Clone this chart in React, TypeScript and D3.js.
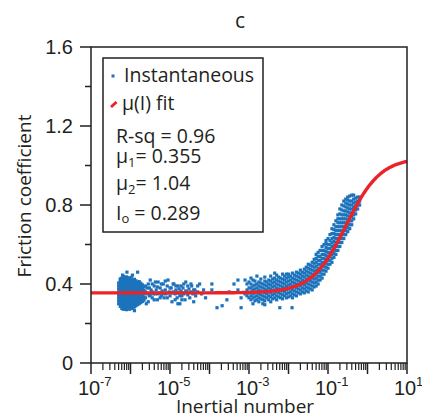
import React from "react";
import * as d3 from "d3";

// ---------- data ----------
// Instantaneous friction measurements grouped in columns:
// [log10(Inertial number), friction coefficients at that inertial number]
const slowCluster: [number, number[]][] = [
  [-6.3, [0.3, 0.315, 0.33, 0.345, 0.36, 0.375, 0.39, 0.405]],
  [-6.26, [0.287, 0.301, 0.316, 0.33, 0.344, 0.358, 0.372, 0.386, 0.4, 0.414, 0.426]],
  [-6.22, [0.276, 0.29, 0.304, 0.318, 0.332, 0.346, 0.36, 0.374, 0.388, 0.402, 0.416, 0.43]],
  [-6.18, [0.272, 0.286, 0.3, 0.314, 0.328, 0.342, 0.356, 0.37, 0.384, 0.398, 0.412, 0.426, 0.438]],
  [-6.14, [0.275, 0.289, 0.303, 0.317, 0.331, 0.345, 0.359, 0.373, 0.387, 0.401, 0.415, 0.429]],
  [-6.1, [0.27, 0.284, 0.298, 0.312, 0.326, 0.34, 0.354, 0.368, 0.382, 0.396, 0.41, 0.424, 0.436]],
  [-6.06, [0.278, 0.292, 0.306, 0.32, 0.334, 0.348, 0.362, 0.376, 0.39, 0.404, 0.418, 0.432]],
  [-6.02, [0.272, 0.286, 0.3, 0.314, 0.328, 0.342, 0.356, 0.37, 0.384, 0.398, 0.412, 0.426]],
  [-5.98, [0.28, 0.294, 0.308, 0.322, 0.336, 0.35, 0.364, 0.378, 0.392, 0.406, 0.42, 0.434]],
  [-5.94, [0.276, 0.29, 0.304, 0.318, 0.332, 0.346, 0.36, 0.374, 0.388, 0.402, 0.416]],
  [-5.9, [0.284, 0.298, 0.312, 0.326, 0.34, 0.354, 0.368, 0.382, 0.396, 0.41, 0.424]],
  [-5.86, [0.29, 0.304, 0.318, 0.332, 0.346, 0.36, 0.374, 0.388, 0.402, 0.416]],
  [-5.82, [0.296, 0.31, 0.324, 0.338, 0.352, 0.366, 0.38, 0.394, 0.408]],
  [-5.78, [0.3, 0.314, 0.328, 0.342, 0.356, 0.37, 0.384, 0.398, 0.412]],
  [-5.74, [0.306, 0.32, 0.334, 0.348, 0.362, 0.376, 0.39, 0.404]],
  [-5.7, [0.312, 0.326, 0.34, 0.354, 0.368, 0.382, 0.396]],
  [-5.66, [0.318, 0.335, 0.352, 0.369, 0.386]],
  [-5.62, [0.33, 0.36, 0.39]],
  [-6.09, [0.46]], [-5.82, [0.46]], [-5.95, [0.445]], [-6.2, [0.445]], [-5.6, [0.3]], [-5.9, [0.265]],
];

const sparseCluster: [number, number[]][] = [
  [-5.58, [0.35, 0.38]], [-5.55, [0.31, 0.4]], [-5.52, [0.34, 0.38]], [-5.5, [0.345, 0.42]],
  [-5.48, [0.37]], [-5.45, [0.33, 0.36, 0.4]], [-5.42, [0.35]], [-5.4, [0.39, 0.32]],
  [-5.37, [0.35, 0.41]], [-5.35, [0.37]], [-5.32, [0.32, 0.385]], [-5.3, [0.41, 0.35]],
  [-5.27, [0.355]], [-5.25, [0.38, 0.33]], [-5.22, [0.34, 0.4]], [-5.2, [0.365]],
  [-5.17, [0.4, 0.35]], [-5.15, [0.33]], [-5.12, [0.37, 0.415]], [-5.1, [0.35]],
  [-5.07, [0.39, 0.33]], [-5.05, [0.42]], [-5.02, [0.36]], [-5.0, [0.34, 0.38]],
  [-4.97, [0.38]], [-4.95, [0.31, 0.355]], [-4.92, [0.36, 0.4]], [-4.9, [0.4]],
  [-4.87, [0.35, 0.32]], [-4.85, [0.37, 0.39]], [-4.82, [0.33, 0.355]], [-4.8, [0.39, 0.3]],
  [-4.77, [0.355, 0.375]], [-4.75, [0.3, 0.34]], [-4.72, [0.365, 0.39]], [-4.7, [0.34, 0.32]],
  [-4.67, [0.38, 0.355]], [-4.65, [0.35, 0.4]], [-4.62, [0.32]], [-4.6, [0.41, 0.365]],
  [-4.57, [0.36]], [-4.55, [0.345, 0.39]], [-4.52, [0.375]], [-4.5, [0.33]],
  [-4.47, [0.36, 0.4]], [-4.45, [0.39]], [-4.42, [0.35]], [-4.4, [0.31, 0.37]],
  [-4.37, [0.37]], [-4.35, [0.34]], [-4.3, [0.36, 0.39]], [-4.25, [0.4]],
  [-4.2, [0.35]], [-4.15, [0.37]], [-4.1, [0.33]],
  [-3.94, [0.4, 0.37]], [-3.81, [0.28]], [-3.68, [0.29]], [-3.56, [0.32]], [-3.5, [0.36]],
  [-3.38, [0.4]], [-3.28, [0.42, 0.37]], [-3.2, [0.33, 0.28]], [-3.1, [0.35, 0.42]],
];

const transitionCluster: [number, number[]][] = [
  [-3.05, [0.34, 0.37, 0.4]],
  [-3.0, [0.33, 0.355, 0.38, 0.41]],
  [-2.95, [0.32, 0.34, 0.36, 0.38, 0.4, 0.43]],
  [-2.9, [0.33, 0.35, 0.37, 0.39, 0.42]],
  [-2.85, [0.315, 0.335, 0.355, 0.375, 0.395, 0.415]],
  [-2.8, [0.32, 0.34, 0.36, 0.38, 0.4, 0.44]],
  [-2.75, [0.31, 0.33, 0.35, 0.37, 0.39, 0.41]],
  [-2.7, [0.325, 0.345, 0.365, 0.385, 0.405, 0.425]],
  [-2.65, [0.3, 0.32, 0.34, 0.36, 0.38, 0.4]],
  [-2.6, [0.315, 0.335, 0.355, 0.375, 0.395, 0.415, 0.435]],
  [-2.55, [0.33, 0.35, 0.37, 0.39, 0.41]],
  [-2.5, [0.32, 0.34, 0.36, 0.38, 0.4, 0.42]],
  [-2.45, [0.31, 0.335, 0.355, 0.375, 0.395, 0.415, 0.44]],
  [-2.4, [0.325, 0.345, 0.365, 0.385, 0.405, 0.425]],
  [-2.35, [0.33, 0.35, 0.37, 0.39, 0.41, 0.43]],
  [-2.3, [0.32, 0.34, 0.36, 0.38, 0.4, 0.42, 0.445]],
  [-2.25, [0.335, 0.355, 0.375, 0.395, 0.415, 0.435]],
  [-2.2, [0.33, 0.35, 0.37, 0.39, 0.41, 0.43]],
  [-2.15, [0.325, 0.345, 0.365, 0.385, 0.405, 0.425, 0.45]],
  [-2.1, [0.34, 0.36, 0.38, 0.4, 0.42, 0.44]],
  [-2.05, [0.33, 0.35, 0.37, 0.39, 0.41, 0.43, 0.45]],
  [-2.22, [0.28]], [-1.91, [0.28]], [-2.6, [0.295]], [-2.9, [0.3]], [-2.35, [0.455]],
];

const risingCluster: [number, number[]][] = [
  [-2.0, [0.335, 0.355, 0.375, 0.395, 0.415, 0.435, 0.45]],
  [-1.95, [0.34, 0.36, 0.38, 0.4, 0.42, 0.44]],
  [-1.9, [0.33, 0.35, 0.37, 0.39, 0.41, 0.43, 0.455]],
  [-1.85, [0.345, 0.365, 0.385, 0.405, 0.425, 0.445]],
  [-1.8, [0.34, 0.36, 0.38, 0.4, 0.42, 0.44, 0.46]],
  [-1.75, [0.355, 0.375, 0.395, 0.415, 0.435, 0.455]],
  [-1.7, [0.35, 0.37, 0.39, 0.41, 0.43, 0.45, 0.47]],
  [-1.65, [0.36, 0.38, 0.4, 0.42, 0.44, 0.46]],
  [-1.6, [0.355, 0.375, 0.395, 0.415, 0.435, 0.455, 0.475]],
  [-1.55, [0.365, 0.385, 0.405, 0.425, 0.445, 0.465, 0.485]],
  [-1.5, [0.36, 0.38, 0.4, 0.42, 0.44, 0.46, 0.48, 0.5]],
  [-1.45, [0.375, 0.395, 0.415, 0.435, 0.455, 0.475, 0.495]],
  [-1.4, [0.37, 0.39, 0.41, 0.43, 0.45, 0.47, 0.49, 0.51]],
  [-1.35, [0.385, 0.405, 0.425, 0.445, 0.465, 0.485, 0.505, 0.525]],
  [-1.3, [0.39, 0.41, 0.43, 0.45, 0.47, 0.49, 0.51, 0.53, 0.55]],
  [-1.25, [0.4, 0.42, 0.44, 0.46, 0.48, 0.5, 0.52, 0.54, 0.56]],
  [-1.2, [0.42, 0.44, 0.46, 0.48, 0.5, 0.52, 0.54, 0.57]],
  [-1.15, [0.43, 0.45, 0.47, 0.49, 0.51, 0.53, 0.55, 0.57, 0.59]],
  [-1.1, [0.45, 0.47, 0.49, 0.51, 0.53, 0.55, 0.57, 0.6]],
  [-1.05, [0.465, 0.485, 0.505, 0.525, 0.545, 0.565, 0.585, 0.605, 0.62]],
  [-1.0, [0.48, 0.5, 0.52, 0.54, 0.56, 0.58, 0.6, 0.63]],
  [-0.95, [0.5, 0.52, 0.54, 0.56, 0.58, 0.6, 0.62, 0.65]],
  [-0.9, [0.51, 0.53, 0.55, 0.57, 0.59, 0.61, 0.63, 0.655, 0.68]],
  [-0.85, [0.535, 0.555, 0.575, 0.595, 0.615, 0.635, 0.655, 0.675, 0.7]],
  [-0.8, [0.55, 0.57, 0.59, 0.61, 0.63, 0.65, 0.67, 0.69, 0.72]],
  [-0.75, [0.57, 0.59, 0.61, 0.63, 0.65, 0.67, 0.69, 0.71, 0.73, 0.75]],
  [-0.7, [0.59, 0.61, 0.63, 0.65, 0.67, 0.69, 0.71, 0.73, 0.755, 0.78]],
  [-0.65, [0.61, 0.63, 0.65, 0.67, 0.69, 0.71, 0.73, 0.75, 0.775, 0.8]],
  [-0.6, [0.63, 0.65, 0.67, 0.69, 0.71, 0.73, 0.75, 0.77, 0.795, 0.82]],
  [-0.55, [0.65, 0.67, 0.69, 0.71, 0.73, 0.75, 0.77, 0.79, 0.81, 0.83]],
  [-0.5, [0.665, 0.685, 0.705, 0.725, 0.745, 0.765, 0.785, 0.805, 0.825, 0.84]],
  [-0.45, [0.68, 0.7, 0.72, 0.74, 0.76, 0.78, 0.8, 0.82, 0.845]],
  [-0.4, [0.7, 0.72, 0.74, 0.76, 0.78, 0.8, 0.82, 0.85]],
  [-0.35, [0.73, 0.75, 0.77, 0.79, 0.81, 0.83, 0.85]],
  [-0.3, [0.755, 0.775, 0.795, 0.815, 0.835]],
  [-0.25, [0.78, 0.8, 0.82, 0.84]],
  [-0.2, [0.8, 0.82, 0.84]],
];

// Fit parameters (mu(I) rheology)
const mu1 = 0.355;
const mu2 = 1.04;
const I0 = 0.289;
const rSq = 0.96;

const yTicks = [0, 0.4, 0.8, 1.2, 1.6];
const yMinorTicks = [0.2, 0.6, 1.0, 1.4];
const xLabelExps = [-7, -5, -3, -1, 1];
const xDecades = [-7, -6, -5, -4, -3, -2, -1, 0, 1];

// ---------- layout ----------
const W = 422;
const H = 419;
const L = 91, R = 407, T = 47, B = 363;

const BLUE = "#1c73bb";
const RED = "#ec2229";
const INK = "#231f20";
const SANS = "'Open Sans', 'Noto Sans', sans-serif";
const ARIAL = "'Liberation Sans', Arial, sans-serif";

export default function App() {
  const x = d3.scaleLog().domain([1e-7, 10]).range([L, R]);
  const y = d3.scaleLinear().domain([0, 1.6]).range([B, T]);

  const allPts: [number, number][] = [];
  [slowCluster, sparseCluster, transitionCluster, risingCluster].forEach((cl) =>
    cl.forEach(([e, mus]) => mus.forEach((m) => allPts.push([Math.pow(10, e), m])))
  );

  const fitI = d3.range(-7, 1.0001, 0.02).map((e) => Math.pow(10, e));
  const fit = (I: number) => mu1 + (mu2 - mu1) / (I0 / I + 1);
  const line = d3
    .line<number>()
    .x((I) => x(I))
    .y((I) => y(fit(I)));

  const minorX: number[] = [];
  xDecades.slice(0, -1).forEach((e) => {
    for (let k = 2; k <= 9; k++) minorX.push(k * Math.pow(10, e));
  });

  const sq = 3.2;
  const fs = 19.5;

  return (
    <svg width={W} height={H} style={{ position: "absolute", left: 0, top: 0 }}>
      <rect x={0} y={0} width={W} height={H} fill="#fff" />
      {/* title */}
      <text x={240} y={28} fontFamily={SANS} fontSize={21} textAnchor="middle" fill={INK}>
        c
      </text>

      {/* scatter */}
      <g fill={BLUE}>
        {allPts.map((d, i) => (
          <rect key={i} x={x(d[0]) - sq / 2} y={y(d[1]) - sq / 2} width={sq} height={sq} />
        ))}
      </g>

      {/* fit line */}
      <path d={line(fitI) || ""} fill="none" stroke={RED} strokeWidth={3.4} />

      {/* frame */}
      <rect x={L} y={T} width={R - L} height={B - T} fill="none" stroke={INK} strokeWidth={1.5} />

      {/* y ticks */}
      {yTicks.map((t) => (
        <g key={"y" + t}>
          <line x1={L - 11} x2={L} y1={y(t)} y2={y(t)} stroke={INK} strokeWidth={1.5} />
          <text x={73} y={y(t)} dy="0.36em" fontFamily={ARIAL} fontSize={20} textAnchor="end" fill={INK}>
            {t === 0 ? "0" : t.toFixed(1)}
          </text>
        </g>
      ))}
      {yMinorTicks.map((t) => (
        <line key={"ym" + t} x1={L - 6} x2={L} y1={y(t)} y2={y(t)} stroke={INK} strokeWidth={1.5} />
      ))}

      {/* x ticks */}
      {xDecades.map((e) => (
        <line
          key={"xd" + e}
          x1={x(Math.pow(10, e))}
          x2={x(Math.pow(10, e))}
          y1={B}
          y2={B + 11}
          stroke={INK}
          strokeWidth={1.5}
        />
      ))}
      {minorX.map((v, i) => (
        <line key={"xm" + i} x1={x(v)} x2={x(v)} y1={B} y2={B + 7} stroke={INK} strokeWidth={1.2} />
      ))}
      {xLabelExps.map((e) => (
        <g key={"xl" + e}>
          <text x={x(Math.pow(10, e)) - 13} y={395} fontFamily={ARIAL} fontSize={20} fill={INK}>
            10
          </text>
          <text x={x(Math.pow(10, e)) + 9} y={386} fontFamily={ARIAL} fontSize={13} fill={INK}>
            {e}
          </text>
        </g>
      ))}

      {/* axis titles */}
      <text x={245} y={413} fontFamily={SANS} fontSize={19} textAnchor="middle" fill={INK}>
        Inertial number
      </text>
      <text transform={`translate(31,196) rotate(-90)`} fontFamily={SANS} fontSize={19} textAnchor="middle" fill={INK}>
        Friction coefficient
      </text>

      {/* legend */}
      <rect x={103} y={58} width={160} height={174} fill="#fff" stroke={INK} strokeWidth={1.5} />
      <rect x={111.5} y={74.5} width={3} height={3} fill={BLUE} />
      <text x={124} y={82} fontFamily={SANS} fontSize={fs} fill={INK}>
        Instantaneous
      </text>
      <line x1={111} y1={107} x2={116.5} y2={102} stroke={RED} strokeWidth={3} />
      <text x={122} y={110} fontFamily={SANS} fontSize={fs} fill={INK}>
        μ(I) fit
      </text>
      <text x={116} y={143} fontFamily={SANS} fontSize={fs} fill={INK}>
        {`R-sq = ${rSq.toFixed(2)}`}
      </text>
      <text x={116} y={163} fontFamily={SANS} fontSize={fs} fill={INK}>
        μ<tspan fontSize={13} dy={4}>1</tspan>
        <tspan dy={-4}>{`= ${mu1}`}</tspan>
      </text>
      <text x={116} y={190} fontFamily={SANS} fontSize={fs} fill={INK}>
        μ<tspan fontSize={13} dy={4}>2</tspan>
        <tspan dy={-4}>{`= ${mu2}`}</tspan>
      </text>
      <text x={116} y={220} fontFamily={SANS} fontSize={fs} fill={INK}>
        I<tspan fontSize={13} dy={3}>o</tspan>
        <tspan dy={-3}>{` = ${I0}`}</tspan>
      </text>
    </svg>
  );
}
